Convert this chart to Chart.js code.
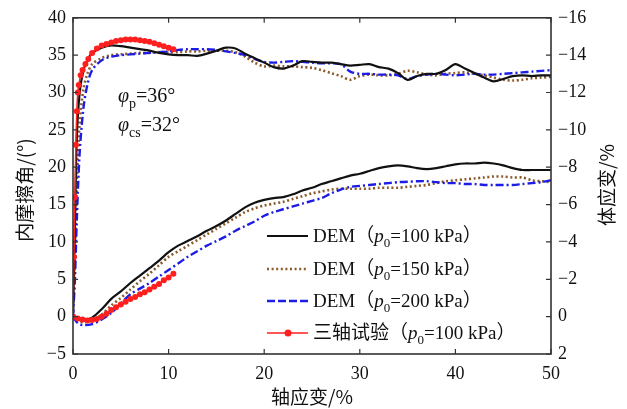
<!DOCTYPE html>
<html><head><meta charset="utf-8">
<script src="https://cdn.jsdelivr.net/npm/chart.js@4"></script>
<style>html,body{margin:0;padding:0;background:#fff}#c{display:block}</style>
</head><body>
<canvas id="c" width="627" height="409"></canvas>
<script>
// ---------- data ----------
const xTicks = [0, 10, 20, 30, 40, 50];
const leftTicks = [-5, 0, 5, 10, 15, 20, 25, 30, 35, 40];
const rightTicks = [2, 0, -2, -4, -6, -8, -10, -12, -14, -16];

// axial strain grid for DEM friction-angle curves
const strainUp = [0,0.2,0.4,0.7,1.1,1.5,2,
  3,4,5,6,7,8,9,10,
  11,12,13,14,15,16,17,18,19,20,
  21,22,23,24,25,26,27,28,29,30,
  31,32,33,34,35,36,37,38,39,40,
  41,42,43,44,45,46,47,48,49,50];
const phiDEM100 = [0,12,24,30,33,34.3,35.3,
  36,36.3,36.2,36,35.8,35.6,35.3,35.1,
  35,35,34.9,35.2,35.6,36,35.9,35.2,34.6,34,
  33.4,33.2,33.6,34.2,34.1,34,34,33.8,33.6,33.7,
  33.8,33.4,33.2,32.6,31.7,32.2,32.5,32.5,33,33.8,
  33.2,32.6,32,31.5,31.8,32.2,32.3,32.2,32.3,32.3];
const phiDEM150 = [0,8,18,26,30.5,32.5,33.8,
  34.6,35,35.1,35.2,35.3,35.3,35.4,35.4,
  35.4,35.5,35.5,35.6,35.6,35.6,35.4,34.8,34,33.5,
  33.6,33.5,33.5,33.4,33.3,33,32.6,32.2,31.7,32.2,
  32.4,32.3,32.3,32.5,32.9,32.7,32.4,32.3,32.5,32.6,
  32.7,32.5,32.3,32,31.7,31.6,31.7,31.9,32,32.1];
const phiDEM200 = [0,5,13,22,28,31,33,
  34.3,34.8,35,35.1,35.2,35.3,35.4,35.5,
  35.7,35.8,35.8,35.8,35.7,35.5,35.3,35,34.5,34.1,
  34,34.1,34.2,34.1,34,33.9,33.9,33.8,32.8,32.5,
  32.5,32.4,32.4,32.3,31.8,32.2,32.4,32.5,32.4,32.3,
  32.4,32.5,32.4,32.4,32.5,32.6,32.7,32.8,32.9,33];

// axial strain grid for DEM volumetric-strain curves
const strainLow = [0,0.5,1,
  2,3,4,5,6,7,8,9,10,
  11,12,13,14,15,16,17,18,19,20,
  21,22,23,24,25,26,27,28,29,30,
  31,32,33,34,35,36,37,38,39,40,
  41,42,43,44,45,46,47,48,49,50];
const volDEM100 = [0,0.15,0.2,
  0.05,-0.4,-0.95,-1.35,-1.8,-2.2,-2.6,-3.0,-3.45,
  -3.8,-4.05,-4.3,-4.6,-4.85,-5.15,-5.5,-5.85,-6.1,-6.25,
  -6.35,-6.4,-6.55,-6.75,-6.9,-7.1,-7.25,-7.4,-7.55,-7.65,
  -7.8,-7.95,-8.05,-8.1,-8.05,-7.95,-7.9,-7.95,-8.05,-8.15,
  -8.2,-8.2,-8.25,-8.2,-8.1,-7.95,-7.85,-7.85,-7.85,-7.85];
const volDEM150 = [0,0.2,0.3,
  0.2,-0.1,-0.6,-1.0,-1.45,-1.9,-2.3,-2.75,-3.2,
  -3.5,-3.8,-4.1,-4.4,-4.7,-5.0,-5.3,-5.6,-5.8,-5.95,
  -6.05,-6.15,-6.3,-6.45,-6.6,-6.7,-6.8,-6.85,-6.85,-6.85,
  -6.85,-6.9,-6.9,-6.9,-6.95,-7.0,-7.05,-7.15,-7.25,-7.3,
  -7.35,-7.4,-7.45,-7.5,-7.5,-7.45,-7.45,-7.3,-7.25,-7.2];
const volDEM200 = [0,0.35,0.45,
  0.4,0.15,-0.2,-0.7,-1.2,-1.5,-1.8,-2.15,-2.5,
  -2.85,-3.2,-3.5,-3.8,-4.05,-4.3,-4.6,-4.85,-5.1,-5.4,
  -5.6,-5.75,-5.9,-6.05,-6.2,-6.35,-6.6,-6.8,-6.95,-7.0,
  -7.05,-7.1,-7.15,-7.2,-7.22,-7.25,-7.25,-7.2,-7.15,-7.15,
  -7.1,-7.1,-7.05,-7.05,-7.05,-7.05,-7.1,-7.15,-7.2,-7.3];

// triaxial test (p0 = 100 kPa)
const strainTestUp = [0,0.1,0.2,0.3,0.4,0.5,0.6,0.8,1,1.3,1.6,2,2.5,3,3.5,4,4.5,5,5.5,6,6.5,7,7.5,8,8.5,9,9.5,10,10.5];
const phiTest = [0,8,16,23,27.5,30,31,32.3,33,33.8,34.5,35.3,35.9,36.3,36.5,36.7,36.9,37,37.1,37.1,37.1,37,36.9,36.8,36.6,36.4,36.2,36,35.8];
const strainTestLow = [0,0.5,1,1.5,2,2.5,3,3.5,4,4.5,5,5.5,6,6.5,7,7.5,8,8.5,9,9.5,10,10.5];
const volTest = [0,0.1,0.15,0.2,0.18,0.12,0,-0.15,-0.35,-0.5,-0.65,-0.8,-0.95,-1.05,-1.2,-1.3,-1.45,-1.6,-1.75,-1.95,-2.1,-2.3];

// ---------- helpers ----------
const pts = (xs, ys) => xs.map((x, i) => ({x, y: ys[i]}));
const SERIF = '"Liberation Serif", "Times New Roman", "Noto Sans CJK SC", serif';
const CJK = '"Noto Sans CJK SC", sans-serif';
const C_BLACK = '#111111', C_BROWN = '#8b5a2b', C_BLUE = '#1c1ce6', C_RED = '#ff1f1f';

const styles = {
  black: {borderColor: C_BLACK, borderWidth: 2.2, borderDash: []},
  brown: {borderColor: C_BROWN, borderWidth: 2.6, borderDash: [2, 2.6]},
  blue: {borderColor: C_BLUE, borderWidth: 2.4, borderDash: [8, 3, 2, 3]},
  red: {borderColor: C_RED, borderWidth: 1.5, borderDash: []}
};
function ds(data, axis, st, pointR) {
  return Object.assign({
    data, yAxisID: axis, pointRadius: pointR || 0, pointHoverRadius: 0,
    pointBackgroundColor: st.borderColor, pointBorderWidth: 0,
    tension: 0.3, fill: false
  }, st);
}

function fmt(v) { return String(v).replace('-', '\u2212'); }

// rich text: segments [{t, italic, sub, cjk}]
function drawRich(ctx, segs, x, y, size) {
  ctx.textBaseline = 'alphabetic';
  ctx.textAlign = 'left';
  for (const s of segs) {
    const sz = s.sub ? Math.round(size * 0.68) : size;
    ctx.font = (s.italic ? 'italic ' : '') + sz + 'px ' + (s.cjk ? CJK : SERIF);
    const dy = s.sub ? size * 0.28 : 0;
    ctx.fillText(s.t, x, y + dy);
    x += ctx.measureText(s.t).width;
  }
  return x;
}

const decor = {
  id: 'decor',
  afterDraw(chart) {
    const ctx = chart.ctx, a = chart.chartArea;
    const sx = chart.scales.x, sl = chart.scales.yL, sr = chart.scales.yR;
    ctx.save();
    // frame
    ctx.strokeStyle = '#333';
    ctx.lineWidth = 1.6;
    ctx.setLineDash([]);
    ctx.strokeRect(a.left, a.top, a.right - a.left, a.bottom - a.top);
    // inward ticks
    ctx.lineWidth = 1.2;
    const L = 5;
    ctx.beginPath();
    xTicks.forEach(v => {
      const px = sx.getPixelForValue(v);
      ctx.moveTo(px, a.bottom); ctx.lineTo(px, a.bottom - L);
      ctx.moveTo(px, a.top); ctx.lineTo(px, a.top + L);
    });
    leftTicks.forEach(v => {
      const py = sl.getPixelForValue(v);
      ctx.moveTo(a.left, py); ctx.lineTo(a.left + L, py);
    });
    rightTicks.forEach(v => {
      const py = sr.getPixelForValue(v);
      ctx.moveTo(a.right, py); ctx.lineTo(a.right - L, py);
    });
    ctx.stroke();

    // axis titles
    ctx.fillStyle = '#111';
    ctx.textAlign = 'center'; ctx.textBaseline = 'middle';
    ctx.font = '19px ' + CJK;
    ctx.fillText('轴应变/%', (a.left + a.right) / 2 + 0, 397);
    ctx.save();
    ctx.translate(25, 190); ctx.rotate(-Math.PI / 2);
    ctx.fillText('内摩擦角/(°)', 0, 0);
    ctx.restore();
    ctx.save();
    ctx.translate(607, 185); ctx.rotate(-Math.PI / 2);
    ctx.fillText('体应变/%', 0, 0);
    ctx.restore();

    // annotations
    ctx.fillStyle = '#111';
    drawRich(ctx, [{t: 'φ', italic: true}, {t: 'p', sub: true}, {t: '=36°'}], 118, 102, 20);
    drawRich(ctx, [{t: 'φ', italic: true}, {t: 'cs', sub: true}, {t: '=32°'}], 118, 131, 20);

    // legend
    const rows = [
      {st: styles.black, label: '100', pre: 'DEM', marker: false},
      {st: styles.brown, label: '150', pre: 'DEM', marker: false},
      {st: styles.blue, label: '200', pre: 'DEM', marker: false, dash: [8, 3]},
      {st: styles.red, label: '100', pre: '三轴试验', marker: true}
    ];
    const ys = [236, 269, 301, 333];
    rows.forEach((r, i) => {
      const y = ys[i];
      ctx.strokeStyle = r.st.borderColor;
      ctx.lineWidth = r.st.borderWidth;
      ctx.setLineDash(r.dash || r.st.borderDash);
      ctx.beginPath(); ctx.moveTo(267, y); ctx.lineTo(308, y); ctx.stroke();
      ctx.setLineDash([]);
      if (r.marker) {
        ctx.fillStyle = r.st.borderColor;
        ctx.beginPath(); ctx.arc(288, y, 3.5, 0, Math.PI * 2); ctx.fill();
      }
      ctx.fillStyle = '#111';
      const isCjk = r.pre !== 'DEM';
      drawRich(ctx, [
        {t: r.pre, cjk: isCjk},
        {t: '（', cjk: true},
        {t: 'p', italic: true},
        {t: '0', sub: true},
        {t: '=' + r.label + ' kPa'},
        {t: '）', cjk: true}
      ], 313, y + 6, 19);
    });
    ctx.restore();
  }
};

const tickFont = {family: SERIF, size: 18};

new Chart(document.getElementById('c'), {
  type: 'line',
  data: {
    datasets: [
      ds(pts(strainTestUp, phiTest), 'yL', styles.red, 3),
      ds(pts(strainTestLow, volTest), 'yR', styles.red, 3),
      ds(pts(strainUp, phiDEM100), 'yL', styles.black),
      ds(pts(strainLow, volDEM100), 'yR', styles.black),
      ds(pts(strainUp, phiDEM200), 'yL', styles.blue),
      ds(pts(strainLow, volDEM200), 'yR', styles.blue),
      ds(pts(strainUp, phiDEM150), 'yL', styles.brown),
      ds(pts(strainLow, volDEM150), 'yR', styles.brown)
    ]
  },
  options: {
    responsive: false,
    animation: false,
    events: [],
    layout: {padding: {top: 17, left: 0, right: 0, bottom: 0}},
    plugins: {legend: {display: false}, tooltip: {enabled: false}},
    scales: {
      x: {
        type: 'linear', min: 0, max: 50,
        afterBuildTicks: s => { s.ticks = xTicks.map(v => ({value: v})); },
        afterFit: s => { s.height = 55; },
        grid: {display: false, drawTicks: false},
        border: {display: false},
        ticks: {font: tickFont, color: '#111', padding: 9, maxRotation: 0, callback: fmt}
      },
      yL: {
        type: 'linear', position: 'left', min: -5, max: 40,
        afterBuildTicks: s => { s.ticks = leftTicks.map(v => ({value: v})); },
        afterFit: s => { s.width = 73; },
        grid: {display: false, drawTicks: false},
        border: {display: false},
        ticks: {font: tickFont, color: '#111', padding: 7, callback: fmt}
      },
      yR: {
        type: 'linear', position: 'right', min: -16, max: 2, reverse: true,
        afterBuildTicks: s => { s.ticks = rightTicks.map(v => ({value: v})); },
        afterFit: s => { s.width = 76; },
        grid: {display: false, drawTicks: false},
        border: {display: false},
        ticks: {font: tickFont, color: '#111', padding: 7, callback: fmt}
      }
    }
  },
  plugins: [decor]
});
</script></body></html>
